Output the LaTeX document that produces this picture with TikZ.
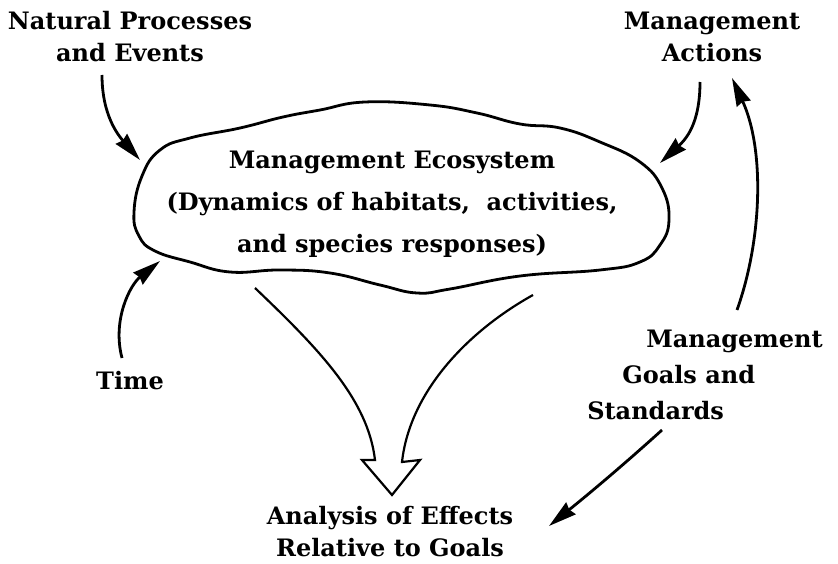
\documentclass[tikz,border=0pt]{standalone}
\usepackage{fontspec}
\setmainfont{DejaVu Serif}
\usetikzlibrary{arrows.meta,positioning,calc}
\tikzset{
  lbl/.style  ={font=\bfseries\fontsize{24}{32}\selectfont,align=center,inner sep=0pt},
  ar/.style   ={-{Stealth[length=28pt,width=15pt,inset=2pt]},line width=2.8pt},
  cloud/.style={line width=2.8pt,line join=round},
  hollow/.style={line width=2.2pt,line join=miter},
}

\begin{document}
\begin{tikzpicture}[x=1pt,y=-1pt]
  \useasboundingbox (0,0) rectangle (838,564);
  % labels
  \node[lbl] (natural) at (130,37) {Natural Processes\\and Events};
  \node[lbl] (actions) at (712,37) {Management\\Actions};
  \node[lbl,font=\bfseries\fontsize{24}{42}\selectfont] (eco) at (392,204)
    {Management Ecosystem\\(Dynamics of habitats,~ activities,\\and species responses)};
  \node[lbl] (time) at (130,381) {Time};
  \node[lbl,align=left,font=\bfseries\fontsize{24}{36}\selectfont] (goals) at (705,375)
    {\hspace*{59pt}Management\\\hspace*{35pt}Goals and\\Standards};
  \node[lbl] (analysis) at (390,532) {Analysis of Effects\\Relative to Goals};
  % ecosystem outline
  \draw[cloud] plot[smooth cycle,tension=0.75] coordinates {
    (134,212) (142,176) (160,150) (190,138) (240,128) (283,117)
    (320,110) (365,102) (430,105) (477,113) (520,124) (560,128)
    (600,142) (640,162) (662,188) (669,220) (660,245) (640,262)
    (600,270) (520,276) (450,289) (417,293) (380,285) (330,273)
    (280,270) (230,272) (190,262) (155,251) (139,236)};
  % arrow ends
  \coordinate (natTail) at (102,75);
  \coordinate (natHead) at (140,160);
  \coordinate (actTail) at (700,82);
  \coordinate (actHead) at (660,163);
  \coordinate (timeTail) at (122,358);
  \coordinate (timeHead) at (160,261);
  \coordinate (goalUp) at (737,310);
  \coordinate (goalTop) at (732,78);
  \coordinate (goalDown) at (662,430);
  \coordinate (goalHead) at (549,526);
  % arrows
  \draw[ar] (natTail) .. controls (102,115) and (118,135) .. (natHead);
  \draw[ar] (actTail) .. controls (700,125) and (685,140) .. (actHead);
  \draw[ar] (timeTail) .. controls (112,320) and (130,285) .. (timeHead);
  \draw[ar] (goalUp) .. controls (762,240) and (765,150) .. (goalTop);
  \draw[ar] (goalDown) .. controls (620,468) and (585,497) .. (goalHead);
  % hollow arrow into analysis
  \draw[hollow] (255,288) .. controls (320,350) and (368,400) .. (375,460)
    -- (362,460) -- (392,495) -- (420,460) -- (402,462)
    .. controls (410,390) and (470,330) .. (533,295);
\end{tikzpicture}
\end{document}
